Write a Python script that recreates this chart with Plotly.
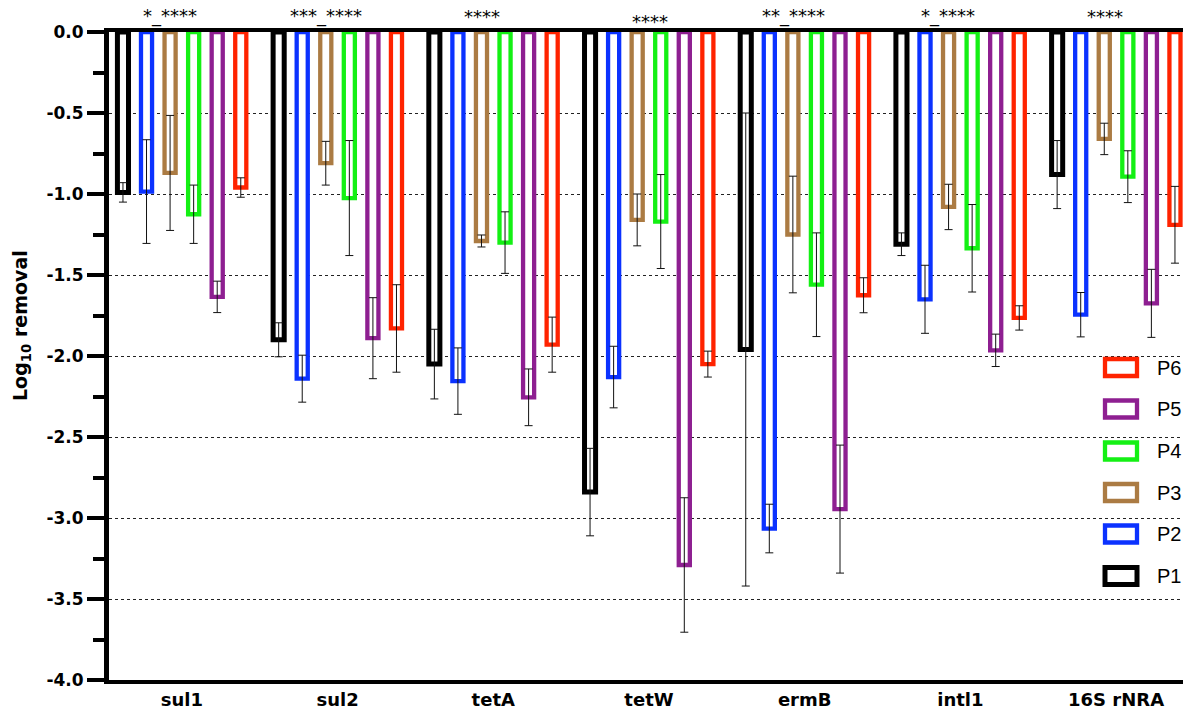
import plotly.graph_objects as go

categories = ["sul1", "sul2", "tetA", "tetW", "ermB", "intl1", "16S rNRA"]
series_names = ["P1", "P2", "P3", "P4", "P5", "P6"]

P1 = [-0.99, -1.90, -2.05, -2.84, -1.96, -1.31, -0.88]
P1_err = [0.06, 0.105, 0.215, 0.27, 1.46, 0.07, 0.21]
P2 = [-0.985, -2.14, -2.155, -2.13, -3.065, -1.65, -1.745]
P2_err = [0.32, 0.145, 0.205, 0.19, 0.15, 0.21, 0.137]
P3 = [-0.87, -0.81, -1.29, -1.16, -1.25, -1.08, -0.66]
P3_err = [0.355, 0.135, 0.037, 0.16, 0.36, 0.14, 0.097]
P4 = [-1.125, -1.025, -1.30, -1.17, -1.56, -1.335, -0.893]
P4_err = [0.18, 0.355, 0.19, 0.29, 0.32, 0.27, 0.16]
P5 = [-1.635, -1.89, -2.255, -3.29, -2.945, -1.965, -1.675]
P5_err = [0.097, 0.25, 0.175, 0.415, 0.395, 0.10, 0.21]
P6 = [-0.96, -1.83, -1.93, -2.05, -1.625, -1.765, -1.19]
P6_err = [0.06, 0.27, 0.17, 0.08, 0.108, 0.075, 0.237]

values = [P1, P2, P3, P4, P5, P6]
errors = [P1_err, P2_err, P3_err, P4_err, P5_err, P6_err]

significance = ["*_****", "***_****", "****", "****", "**_****", "*_****", "****"]

y_tickvals = [0.0, -0.5, -1.0, -1.5, -2.0, -2.5, -3.0, -3.5, -4.0]
y_ticktext = ["0.0", "-0.5", "-1.0", "-1.5", "-2.0", "-2.5", "-3.0", "-3.5", "-4.0"]

# styles
colors = ["#000000", "#0B32FF", "#AB7B43", "#14F014", "#8E1F91", "#FF2300"]
line_widths = [5, 4.3, 4.3, 4.3, 4.3, 4.3]
sig_xshift = [-12, -12, -11, 1, -11, -12, -11]
sig_yshift = [3, 3, 3, -2, 3, 3, 3]

BOLD = "DejaVu Sans"
REG = "Liberation Sans, Arial"

fig = go.Figure()
for name, vals, errs, col, lw in zip(series_names, values, errors, colors, line_widths):
    fig.add_trace(go.Bar(
        x=categories, y=vals, name=name,
        marker=dict(color="white", line=dict(color=col, width=lw)),
        error_y=dict(type="data", array=errs, visible=True,
                     color="#111111", thickness=1, width=4),
    ))

W, H = 1183, 709
ML, MR, MT, MB = 109, 0, 32, 29
pw = W - ML - MR
ph = H - MT - MB

annotations = []
for i, (txt, dx, dy) in enumerate(zip(significance, sig_xshift, sig_yshift)):
    annotations.append(dict(
        x=categories[i], xref="x", y=1, yref="paper", yanchor="bottom",
        text=txt, showarrow=False, xshift=dx, yshift=dy,
        font=dict(family=BOLD, size=18, color="black"),
    ))

# y title
annotations.append(dict(
    x=(21 - ML) / pw, xref="paper", y=(H - MB - 326) / ph, yref="paper",
    text="Log<sub>10</sub> removal", textangle=-90, showarrow=False,
    xanchor="center", yanchor="middle",
    font=dict(family=BOLD, size=19, color="black", weight="bold"),
))

# legend drawn manually (top: P6 ... bottom: P1)
shapes = []
leg_centers = [576, 534, 492.5, 451, 409, 367.5]  # pixel centres, P1..P6
for name, col, cy, lw in zip(series_names, colors, leg_centers, line_widths):
    x0 = (1105 - ML) / pw
    x1 = (1137 - ML) / pw
    y0 = (H - MB - (cy + 8.5)) / ph
    y1 = (H - MB - (cy - 8.5)) / ph
    shapes.append(dict(type="rect", xref="paper", yref="paper",
                       x0=x0, x1=x1, y0=y0, y1=y1,
                       line=dict(color=col, width=lw), fillcolor="white"))
    annotations.append(dict(
        x=(1155 - ML) / pw, xref="paper", y=(H - MB - cy) / ph, yref="paper",
        xanchor="left", yanchor="middle", text=name, showarrow=False,
        font=dict(family=REG, size=20, color="black"),
    ))

fig.update_layout(
    width=W, height=H,
    margin=dict(l=ML, r=MR, t=MT, b=MB, pad=0),
    plot_bgcolor="white", paper_bgcolor="white",
    barmode="group", bargap=0.092, bargroupgap=0.53,
    showlegend=False,
    annotations=annotations, shapes=shapes,
    xaxis=dict(
        range=[-0.468, 6.43], showline=True, mirror=True, linewidth=4,
        linecolor="black", ticks="", showgrid=False, zeroline=False,
        tickfont=dict(family=BOLD, size=18, color="black", weight="bold"),
    ),
    yaxis=dict(
        range=[-4, 0], tickvals=y_tickvals, ticktext=y_ticktext,
        ticks="outside", ticklen=17, tickwidth=4, tickcolor="black",
        showline=True, linewidth=5, linecolor="black",
        showgrid=True, gridcolor="#222222", griddash="dot", gridwidth=1,
        zeroline=False,
        tickfont=dict(family=BOLD, size=17, color="black", weight="bold"),
        minor=dict(dtick=0.25, tick0=0, ticks="outside", ticklen=11,
                   tickwidth=4, tickcolor="black", showgrid=False),
    ),
)

fig.write_html("out.html")
